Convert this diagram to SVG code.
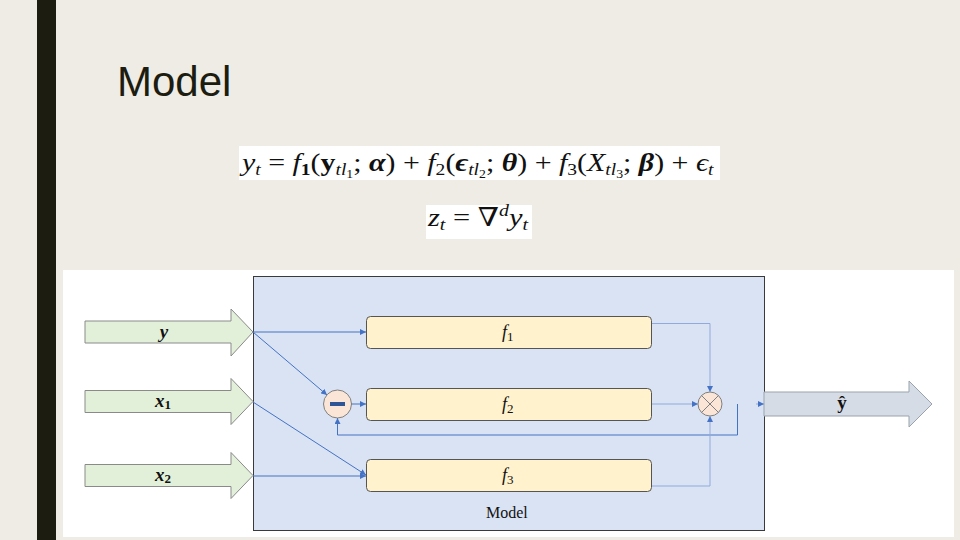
<svg xmlns="http://www.w3.org/2000/svg" width="960" height="540" viewBox="0 0 960 540">
<defs>
<style>
.math{font-family:"Liberation Serif","DejaVu Serif",serif;fill:#111;}
.lbl{font-family:"Liberation Serif","DejaVu Serif",serif;fill:#111;}
.in{fill:#E2F0D9;stroke:#8a8a8a;stroke-width:1;}
.fbox{fill:#FFF2CC;stroke:#555;stroke-width:1;}
.conn{fill:none;stroke:#4472C4;stroke-width:1;}
.conn2{fill:none;stroke:#8FAADC;stroke-width:1;}
</style>
<marker id="ah" viewBox="0 0 10 10" refX="10" refY="5" markerWidth="6" markerHeight="6" orient="auto" markerUnits="userSpaceOnUse">
<path d="M0,0 L10,5 L0,10 z" fill="#4472C4"/>
</marker>
</defs>
<rect x="0" y="0" width="960" height="540" fill="#EEECE5"/>
<rect x="37" y="0" width="19" height="540" fill="#1C1C10"/>
<text x="117" y="96" font-family="Liberation Sans, Arial, sans-serif" font-size="42" fill="#1C1C10">Model</text>

<g id="formula1">
<rect x="239" y="146" width="481" height="34" fill="#FFFFFF"/>
<text transform="translate(242,171) scale(1.15,1)" x="0" y="0" class="math" font-size="26"><tspan font-style="italic">y</tspan><tspan font-style="italic" font-size="17" dy="4">t</tspan><tspan dy="-4"> = </tspan><tspan font-style="italic">f</tspan><tspan font-size="17" font-weight="bold" dy="4">1</tspan><tspan dy="-4">(</tspan><tspan font-weight="bold">y</tspan><tspan font-style="italic" font-size="17" dy="4">tl</tspan><tspan font-size="12" dy="3">1</tspan><tspan dy="-7">; </tspan><tspan font-weight="bold" font-style="italic">α</tspan><tspan>) + </tspan><tspan font-style="italic">f</tspan><tspan font-size="17" dy="4">2</tspan><tspan dy="-4">(</tspan><tspan font-weight="bold" font-style="italic">ϵ</tspan><tspan font-style="italic" font-size="17" dy="4">tl</tspan><tspan font-size="12" dy="3">2</tspan><tspan dy="-7">; </tspan><tspan font-weight="bold" font-style="italic">θ</tspan><tspan>) + </tspan><tspan font-style="italic">f</tspan><tspan font-size="17" dy="4">3</tspan><tspan dy="-4">(</tspan><tspan font-style="italic">X</tspan><tspan font-style="italic" font-size="17" dy="4">tl</tspan><tspan font-size="12" dy="3">3</tspan><tspan dy="-7">; </tspan><tspan font-weight="bold" font-style="italic">β</tspan><tspan>) + </tspan><tspan font-style="italic">ϵ</tspan><tspan font-style="italic" font-size="17" dy="4">t</tspan></text>
</g>
<g id="formula2">
<rect x="426" y="205" width="106" height="34" fill="#FFFFFF"/>
<text transform="translate(428,226) scale(1.17,1)" x="0" y="0" class="math" font-size="26"><tspan font-style="italic">z</tspan><tspan font-style="italic" font-size="17" dy="4">t</tspan><tspan dy="-4"> = ∇</tspan><tspan font-style="italic" font-size="17" dy="-10">d</tspan><tspan font-style="italic" dy="10">y</tspan><tspan font-style="italic" font-size="17" dy="4">t</tspan></text>
</g>

<rect x="63" y="270" width="891" height="267" fill="#FFFFFF"/>

<g id="model">
<rect x="253.5" y="276.5" width="511" height="254" fill="#DAE3F3" stroke="#3a3a3a" stroke-width="1"/>
<text x="486" y="518" class="lbl" font-size="16">Model</text>
</g>

<g id="in-y">
<polygon class="in" points="85,321 231,321 231,309 253,332 231,356 231,343 85,343"/>
<text x="164" y="338" class="lbl" font-size="19" font-weight="bold" font-style="italic" text-anchor="middle">y</text>
</g>
<g id="in-x1">
<polygon class="in" points="85,390.5 231,390.5 231,378.5 253,401.5 231,424.5 231,412.5 85,412.5"/>
<text x="155" y="407" class="lbl" font-size="19" font-weight="bold" font-style="italic">x<tspan font-size="13" font-style="normal" dy="2">1</tspan></text>
</g>
<g id="in-x2">
<polygon class="in" points="85,464.5 231,464.5 231,452.5 253,475.5 231,498.5 231,486.5 85,486.5"/>
<text x="155" y="481" class="lbl" font-size="19" font-weight="bold" font-style="italic">x<tspan font-size="13" font-style="normal" dy="2">2</tspan></text>
</g>

<g id="f1">
<rect class="fbox" x="366.5" y="316.5" width="285" height="32" rx="4"/>
<text x="502" y="338" class="lbl" font-size="18" font-style="italic">f<tspan font-size="13" font-style="normal" dy="3">1</tspan></text>
</g>
<g id="f2">
<rect class="fbox" x="366.5" y="388.5" width="285" height="32" rx="4"/>
<text x="502" y="410" class="lbl" font-size="18" font-style="italic">f<tspan font-size="13" font-style="normal" dy="3">2</tspan></text>
</g>
<g id="f3">
<rect class="fbox" x="366.5" y="459.5" width="285" height="32" rx="4"/>
<text x="502" y="481" class="lbl" font-size="18" font-style="italic">f<tspan font-size="13" font-style="normal" dy="3">3</tspan></text>
</g>

<g id="minus">
<circle cx="337.5" cy="404" r="14" fill="#FBE5D6" stroke="#7f7f7f" stroke-width="1"/>
<rect x="330" y="402" width="15" height="4" fill="#2F5597"/>
</g>
<g id="mult">
<circle cx="710" cy="404" r="12" fill="#FBE5D6" stroke="#7f7f7f" stroke-width="1"/>
<path d="M701.5,395.5 L718.5,412.5 M718.5,395.5 L701.5,412.5" stroke="#7f7f7f" stroke-width="1" fill="none"/>
</g>

<g id="out">
<polygon points="764,392 909,392 909,381 932,404 909,427 909,416 764,416" fill="#D6DCE5" stroke="#9aa3ad" stroke-width="1"/>
<text x="842" y="409" class="lbl" font-size="19" font-weight="bold" text-anchor="middle">ŷ</text>
</g>

<g id="connectors">
<path class="conn" d="M253,332 H366" marker-end="url(#ah)"/>
<path class="conn" d="M253,332 L327,395" marker-end="url(#ah)"/>
<path class="conn" d="M351.5,404 H366" marker-end="url(#ah)"/>
<path class="conn" d="M737.5,404 V435 H337.5 V418" marker-end="url(#ah)"/>
<path class="conn" d="M253,402 L366,475" marker-end="url(#ah)"/>
<path class="conn" d="M253,476 H366" marker-end="url(#ah)"/>
<path class="conn2" d="M652,323.5 H710 V392" marker-end="url(#ah)"/>
<path class="conn2" d="M652,404 H698" marker-end="url(#ah)"/>
<path class="conn2" d="M652,486 H710 V416" marker-end="url(#ah)"/>
<path class="conn2" d="M756,404 H764" marker-end="url(#ah)"/>
</g>
</svg>
